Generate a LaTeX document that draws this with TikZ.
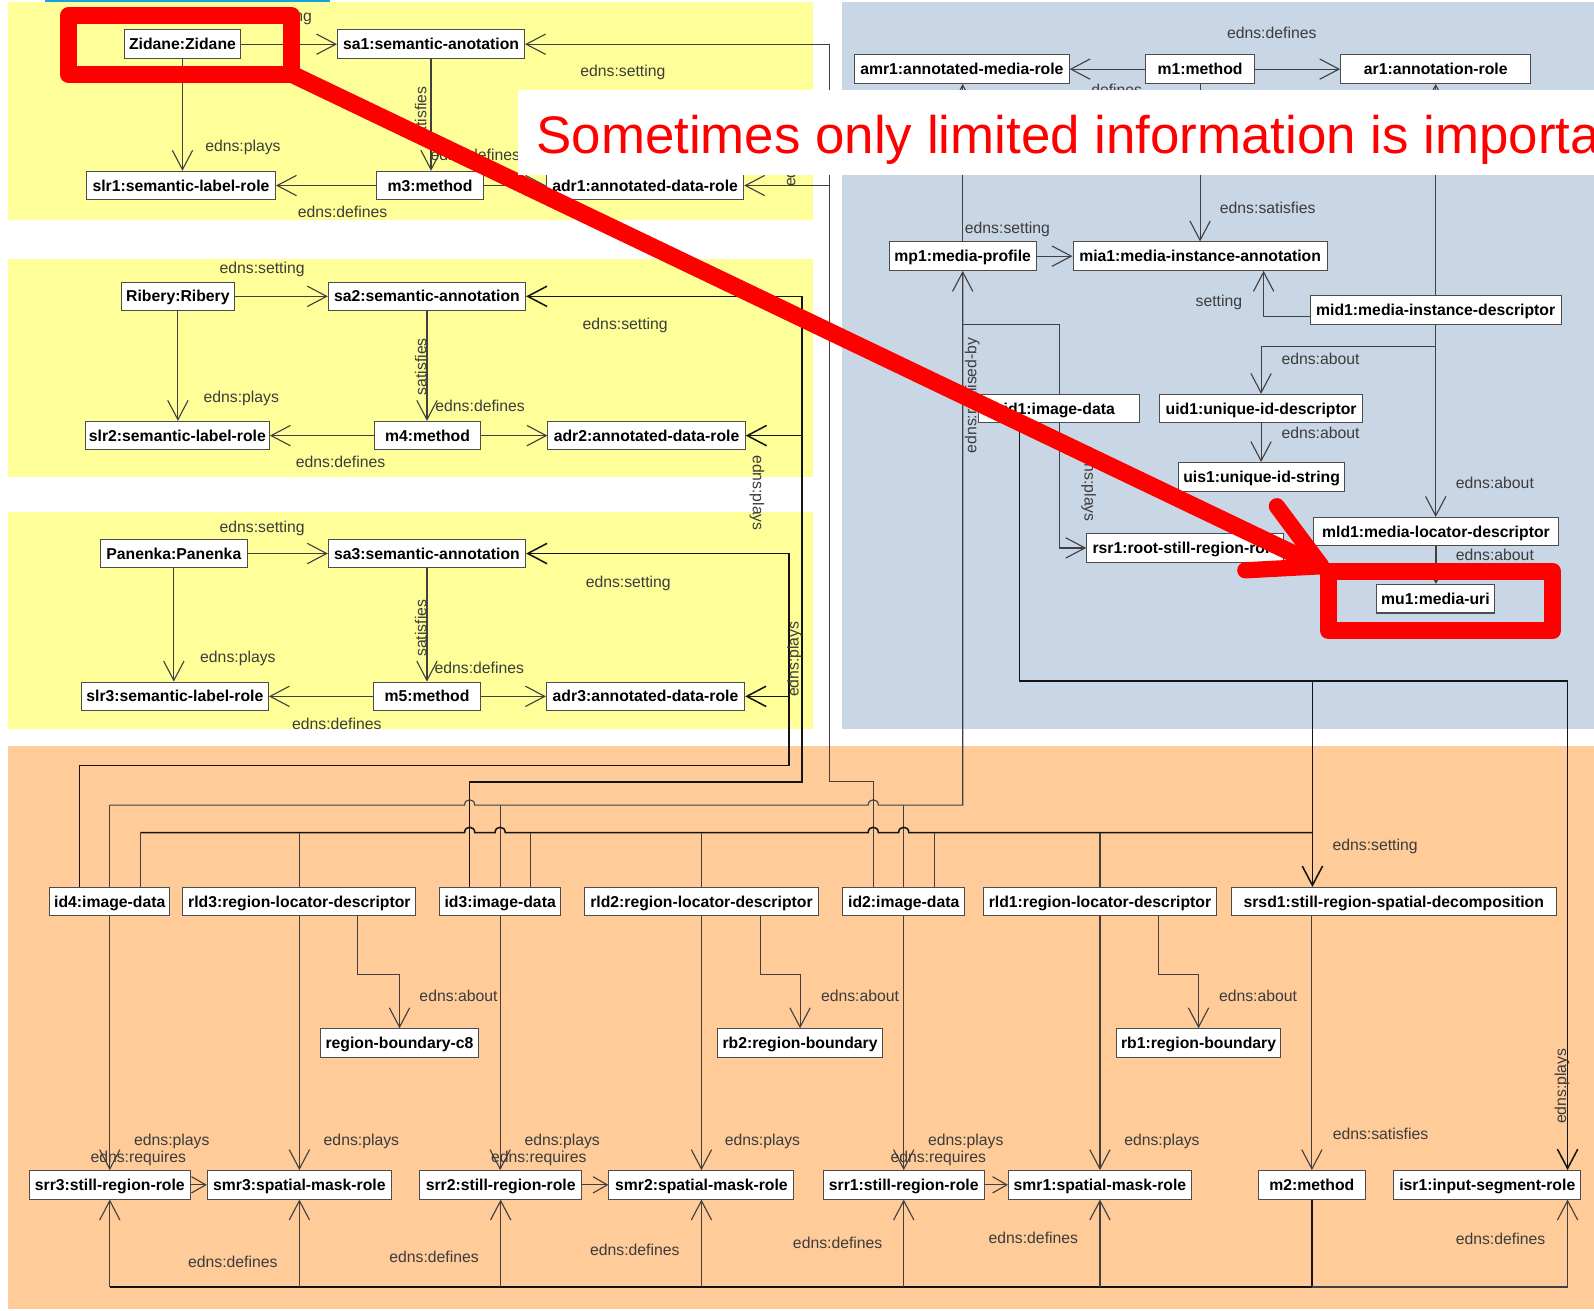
\documentclass[tikz,border=0pt]{standalone}
\usepackage{fontspec}
\setmainfont{Liberation Sans}
\usetikzlibrary{arrows.meta,calc}

\definecolor{paneyellow}{RGB}{255,255,153}
\definecolor{paneblue}{RGB}{201,214,230}
\definecolor{paneorange}{RGB}{254,203,153}
\definecolor{wiregray}{RGB}{64,64,64}
\definecolor{labelgray}{RGB}{60,60,60}
\definecolor{markred}{RGB}{255,0,0}
\definecolor{stripblue}{RGB}{20,165,225}

\begin{document}
\begin{tikzpicture}[x=1pt,y=-1pt,
  box/.style={draw=black!70, line width=1pt, fill=white,
    font=\fontsize{15.5}{18}\selectfont\bfseries,
    minimum height=28pt, inner sep=0pt, text height=11pt, text depth=0pt},
  lbl/.style={font=\fontsize{15.5}{18}\selectfont, text=labelgray,
    inner sep=0pt, text height=11pt, text depth=0pt},
  wire/.style={draw=wiregray, line width=1.1pt},
  heavy/.style={draw=black!92, line width=1.5pt},
  arr/.style={-{Straight Barb[length=19pt,width=20pt]}},
  sarr/.style={-{Straight Barb[length=14pt,width=16pt]}},
  hop/.style={insert path={-- ([xshift=-5pt]#1)
      .. controls ([xshift=-5pt,yshift=7pt]#1) and ([xshift=5pt,yshift=7pt]#1)
      .. ([xshift=5pt]#1)}},
  redmark/.style={draw=markred, line width=17pt}
]
\useasboundingbox (0,0) rectangle (1568,1289);

% ---------- panels ----------
\fill[white] (0,0) rectangle (1568,1289);
\fill[stripblue] (44,0) rectangle (325,1.8);
\fill[paneyellow] (8,2) rectangle (800,216);
\fill[paneyellow] (8,255) rectangle (800,469);
\fill[paneyellow] (8,504) rectangle (800,717);
\fill[paneblue] (828,2) rectangle (1568,717);
\fill[paneorange] (7.5,734) rectangle (1568,1287.5);

% ---------- semantic annotation groups ----------
\node[box,minimum width=115pt] (zid) at (179.5,43.5) {Zidane:Zidane};
\node[box,minimum width=184pt] (sa1) at (424,43.5) {sa1:semantic-anotation};
\node[box,minimum width=186pt] (slr1) at (178,182.5) {slr1:semantic-label-role};
\node[box,minimum width=106pt] (m3) at (423,182.5) {m3:method};
\node[box,minimum width=194pt] (adr1) at (634.6,182.5) {adr1:annotated-data-role};

\node[box,minimum width=111pt] (rib) at (175,291.5) {Ribery:Ribery};
\node[box,minimum width=194pt] (sa2) at (420,291.5) {sa2:semantic-annotation};
\node[box,minimum width=181pt] (slr2) at (174.5,428.5) {slr2:semantic-label-role};
\node[box,minimum width=105pt] (m4) at (420.5,428.5) {m4:method};
\node[box,minimum width=194pt] (adr2) at (636,428.5) {adr2:annotated-data-role};

\node[box,minimum width=144pt] (pan) at (171,544.5) {Panenka:Panenka};
\node[box,minimum width=194pt] (sa3) at (420,544.5) {sa3:semantic-annotation};
\node[box,minimum width=184pt] (slr3) at (172,685) {slr3:semantic-label-role};
\node[box,minimum width=106pt] (m5) at (420,685) {m5:method};
\node[box,minimum width=195pt] (adr3) at (635,685) {adr3:annotated-data-role};

% ---------- media instance group ----------
\node[box,minimum width=211pt] (amr1) at (946.2,68) {amr1:annotated-media-role};
\node[box,minimum width=107pt] (m1) at (1180.5,68) {m1:method};
\node[box,minimum width=187pt] (ar1) at (1412.3,68) {ar1:annotation-role};
\node[box,minimum width=145pt] (mp1) at (947,252) {mp1:media-profile};
\node[box,minimum width=250pt] (mia1) at (1180.5,252) {mia1:media-instance-annotation};
\node[box,minimum width=247pt] (mid1) at (1412.3,305) {mid1:media-instance-descriptor};
\node[box,minimum width=158pt] (id1) at (1042,402) {id1:image-data};
\node[box,minimum width=199pt] (uid1) at (1240.5,402) {uid1:unique-id-descriptor};
\node[box,minimum width=164pt] (uis1) at (1241,469) {uis1:unique-id-string};
\node[box,minimum width=241pt] (mld1) at (1412.5,523) {mld1:media-locator-descriptor};
\node[box,minimum width=194pt] (rsr1) at (1166,539) {rsr1:root-still-region-role};
\node[box,minimum width=116pt] (mu1) at (1412,589) {mu1:media-uri};

% ---------- region decomposition group ----------
\node[box,minimum width=118pt] (id4) at (108,887) {id4:image-data};
\node[box,minimum width=229pt] (rld3) at (294.5,887) {rld3:region-locator-descriptor};
\node[box,minimum width=119pt] (id3) at (492,887) {id3:image-data};
\node[box,minimum width=230pt] (rld2) at (690,887) {rld2:region-locator-descriptor};
\node[box,minimum width=120pt] (id2) at (889,887) {id2:image-data};
\node[box,minimum width=230pt] (rld1) at (1082,887) {rld1:region-locator-descriptor};
\node[box,minimum width=320pt] (srsd1) at (1371,887) {srsd1:still-region-spatial-decomposition};
\node[box,minimum width=156pt] (rbc) at (393,1026) {region-boundary-c8};
\node[box,minimum width=162pt] (rb2) at (787,1026) {rb2:region-boundary};
\node[box,minimum width=162pt] (rb1) at (1179,1026) {rb1:region-boundary};
\node[box,minimum width=158pt] (srr3) at (108,1165.5) {srr3:still-region-role};
\node[box,minimum width=181pt] (smr3) at (294.5,1165.5) {smr3:spatial-mask-role};
\node[box,minimum width=159pt] (srr2) at (492.5,1165.5) {srr2:still-region-role};
\node[box,minimum width=182pt] (smr2) at (690,1165.5) {smr2:spatial-mask-role};
\node[box,minimum width=158pt] (srr1) at (889,1165.5) {srr1:still-region-role};
\node[box,minimum width=180pt] (smr1) at (1082,1165.5) {smr1:spatial-mask-role};
\node[box,minimum width=105pt] (m2) at (1290.5,1165.5) {m2:method};
\node[box,minimum width=184pt] (isr1) at (1463,1165.5) {isr1:input-segment-role};

% ---------- routing helpers ----------
\coordinate (v4a) at ([xshift=-30pt]id4.north);
\coordinate (v4c) at ([xshift=30pt]id4.north);
\coordinate (v3a) at ([xshift=-30pt]id3.north);
\coordinate (v3c) at ([xshift=30pt]id3.north);
\coordinate (v2a) at ([xshift=-30pt]id2.north);
\coordinate (v2c) at ([xshift=30pt]id2.north);
\coordinate (aTurn) at (776,753);
\coordinate (dTurn) at (789,769);
\coordinate (eTurn) at (816,769);
\coordinate (yB) at (0,792);
\coordinate (yC) at (0,819);
\coordinate (yR) at (0,670);
\coordinate (yR1) at (0,319);
\coordinate (yAb) at (0,959);
\coordinate (yBot) at (0,1266);
\coordinate (sIn) at ([xshift=-80pt]srsd1.north);
\coordinate (v1a) at ([xshift=-39pt]id1.south);
\coordinate (isrIn) at ([xshift=79pt]isr1.north);
\coordinate (isrOut) at ([xshift=79pt]isr1.south);
\coordinate (hB1) at (v3a |- yB);
\coordinate (hB2) at (v2a |- yB);
\coordinate (hC1) at (v3a |- yC);
\coordinate (hC2) at (id3.north |- yC);
\coordinate (hC3) at (v2a |- yC);
\coordinate (hC4) at (id2.north |- yC);

% ---------- connectors: annotation groups ----------
\draw[wire,arr] (zid) -- (sa1);
\draw[wire,arr] (zid) -- (zid |- slr1.north);
\draw[wire,arr] (sa1) -- (sa1 |- m3.north);
\draw[wire,arr] (m3) -- (slr1);
\draw[wire,arr] (m3) -- (adr1);
\draw[wire,arr] (v2a) |- (eTurn) |- (sa1.east);
\draw[wire,arr] (eTurn |- adr1.east) -- (adr1.east);

\draw[wire,arr] (rib) -- (sa2);
\draw[wire,arr] (rib) -- (rib |- slr2.north);
\draw[wire,arr] (sa2) -- (sa2 |- m4.north);
\draw[wire,arr] (m4) -- (slr2);
\draw[wire,arr] (m4) -- (adr2);
\draw[heavy,arr] (v3a) |- (dTurn) |- (sa2.east);
\draw[heavy,arr] (dTurn |- adr2.east) -- (adr2.east);

\draw[wire,arr] (pan) -- (sa3);
\draw[wire,arr] (pan) -- (pan |- slr3.north);
\draw[wire,arr] (sa3) -- (sa3 |- m5.north);
\draw[wire,arr] (m5) -- (slr3);
\draw[wire,arr] (m5) -- (adr3);
\draw[heavy,arr] (v4a) |- (aTurn) |- (sa3.east);
\draw[heavy,arr] (aTurn |- adr3.east) -- (adr3.east);

% ---------- connectors: media instance group ----------
\draw[wire,arr] (m1) -- (amr1);
\draw[wire,arr] (m1) -- (ar1);
\draw[wire,arr] (m1) -- (m1 |- mia1.north);
\draw[wire,arr] (mp1) -- (mp1 |- amr1.south);
\draw[wire,arr] (mp1) -- (mia1);
\draw[wire,arr] (mid1) -- (mid1 |- ar1.south);
\draw[wire,arr] ([yshift=-6pt]mid1.west) -| ([xshift=62.5pt]mia1.south);
\draw[wire,arr] (mid1.south) -- ++(0,21) -| (uid1.north);
\draw[wire,arr] (mid1) -- (mid1 |- mld1.north);
\draw[wire,arr] (uid1) -- (uid1 |- uis1.north);
\draw[wire,arr] (mld1) -- (mld1 |- mu1.north);
\draw[wire,arr] (id1.south) |- (rsr1.west);

% realised-by bus
\draw[wire,arr] (id4.north |- yB) [hop=hB1] [hop=hB2] -- (mp1.south |- yB) -- (mp1.south);
\draw[wire] (id4.north |- yB) -- (id4.north);
\draw[wire] (id3.north |- yB) -- (id3.north);
\draw[wire] (id2.north |- yB) -- (id2.north);
\draw[wire] (mp1.south |- yR1) -| (id1.north);

% setting bus of the decomposition
\draw[heavy] (v4c |- yC) [hop=hC1] [hop=hC2] [hop=hC3] [hop=hC4] -- (sIn |- yC);
\draw[wire] (v4c |- yC) -- (v4c);
\draw[wire] (rld3.north |- yC) -- (rld3.north);
\draw[wire] (v3c |- yC) -- (v3c);
\draw[wire] (rld2.north |- yC) -- (rld2.north);
\draw[wire] (v2c |- yC) -- (v2c);
\draw[wire] (rld1.north |- yC) -- (rld1.north);
\draw[heavy,arr] (v1a) -- (v1a |- yR) -- (isrIn |- yR) -- (isrIn);
\draw[heavy,arr] (sIn |- yR) -- (sIn);

% ---------- connectors: region decomposition group ----------
\draw[wire,arr] (id4) -- (id4 |- srr3.north);
\draw[wire,arr] (rld3) -- (rld3 |- smr3.north);
\draw[wire,arr] (id3) -- (id3 |- srr2.north);
\draw[wire,arr] (rld2) -- (rld2 |- smr2.north);
\draw[wire,arr] (id2) -- (id2 |- srr1.north);
\draw[wire,arr] (rld1) -- (rld1 |- smr1.north);
\draw[wire,arr] (m2.north |- srsd1.south) -- (m2.north);
\draw[wire,arr] ([xshift=57.5pt]rld3.south) |- (yAb -| rbc.north) -- (rbc.north);
\draw[wire,arr] ([xshift=57.7pt]rld2.south) |- (yAb -| rb2.north) -- (rb2.north);
\draw[wire,arr] ([xshift=58pt]rld1.south) |- (yAb -| rb1.north) -- (rb1.north);
\draw[wire,sarr] (srr3) -- (smr3);
\draw[wire,sarr] (srr2) -- (smr2);
\draw[wire,sarr] (srr1) -- (smr1);
\draw[heavy] (m2.south) |- (srr3.south |- yBot);
\draw[wire,arr] (srr3.south |- yBot) -- (srr3.south);
\draw[wire,arr] (smr3.south |- yBot) -- (smr3.south);
\draw[wire,arr] (srr2.south |- yBot) -- (srr2.south);
\draw[wire,arr] (smr2.south |- yBot) -- (smr2.south);
\draw[wire,arr] (srr1.south |- yBot) -- (srr1.south);
\draw[wire,arr] (smr1.south |- yBot) -- (smr1.south);
\draw[wire,arr] (m2.south |- yBot) -| (isrOut);

% ---------- relation labels ----------
\node[lbl] (t1) at (265,16) {edns:setting};
\node[lbl] (t2) at (239,143.3) {edns:plays};
\node[lbl,rotate=90] (t3) at (414,113) {satisfies};
\node[lbl] (t4) at (467.5,152.5) {edns:defines};
\node[lbl] (t5) at (337,208) {edns:defines};
\node[lbl] (t6) at (612.7,69.8) {edns:setting};
\node[lbl,rotate=90,anchor=west] (t7) at (777,184) {edns:plays};

\node[lbl] (t8) at (257.8,264) {edns:setting};
\node[lbl] (t9) at (615,318.7) {edns:setting};
\node[lbl,rotate=90] (t10) at (414,360.6) {satisfies};
\node[lbl] (t11) at (237.4,390) {edns:plays};
\node[lbl] (t12) at (472.3,399.4) {edns:defines};
\node[lbl] (t13) at (335,454.5) {edns:defines};
\node[lbl,rotate=-90] (t14) at (746,485) {edns:plays};

\node[lbl] (t15) at (257.8,518) {edns:setting};
\node[lbl] (t16) at (618,572) {edns:setting};
\node[lbl,rotate=90] (t17) at (414,618) {satisfies};
\node[lbl] (t18) at (234,646) {edns:plays};
\node[lbl] (t19) at (471.5,656.8) {edns:defines};
\node[lbl] (t20) at (331.3,712) {edns:defines};
\node[lbl,rotate=90] (t21) at (780,648.5) {edns:plays};

\node[lbl] (t22) at (1251,32.8) {edns:defines};
\node[lbl] (t23) at (1098.5,88) {defines};
\node[lbl] (t24) at (991,224.6) {edns:setting};
\node[lbl] (t25) at (1247,205) {edns:satisfies};
\node[lbl] (t26) at (1199,296) {setting};
\node[lbl] (t27) at (1299,353) {edns:about};
\node[lbl] (t28) at (1299,426) {edns:about};
\node[lbl] (t29) at (1470.5,474.8) {edns:about};
\node[lbl] (t30) at (1470.5,546) {edns:about};
\node[lbl,rotate=-90] (t31) at (1072.5,476) {edns:plays};
\node[lbl,rotate=90] (t32) at (955,389) {edns:realised-by};

\node[lbl] (t33) at (1352.7,831) {edns:setting};
\node[lbl] (t34) at (451,980) {edns:about};
\node[lbl] (t35) at (846,980) {edns:about};
\node[lbl] (t36) at (1237.5,980) {edns:about};
\node[lbl] (t37) at (169,1121) {edns:plays};
\node[lbl] (t38) at (355.5,1121) {edns:plays};
\node[lbl] (t39) at (553,1121) {edns:plays};
\node[lbl] (t40) at (750,1121) {edns:plays};
\node[lbl] (t41) at (950,1121) {edns:plays};
\node[lbl] (t42) at (1143,1121) {edns:plays};
\node[lbl] (t43) at (136,1138) {edns:requires};
\node[lbl] (t44) at (530,1138) {edns:requires};
\node[lbl] (t45) at (923,1138) {edns:requires};
\node[lbl] (t46) at (1358,1115.5) {edns:satisfies};
\node[lbl,rotate=90] (t47) at (1535,1068.5) {edns:plays};
\node[lbl] (t48) at (229,1241) {edns:defines};
\node[lbl] (t49) at (427,1236) {edns:defines};
\node[lbl] (t50) at (624.5,1229.6) {edns:defines};
\node[lbl] (t51) at (824,1223) {edns:defines};
\node[lbl] (t52) at (1016.5,1218) {edns:defines};
\node[lbl] (t53) at (1476,1219) {edns:defines};

% ---------- highlight marks ----------
\draw[redmark, line cap=round] (285,72) -- (1296,556);

\fill[white] (510,89) rectangle (1568,172.5);
\begin{scope}
  \clip (510,89) rectangle (1568,172.5);
  \node[anchor=base west, inner sep=0pt, font=\fontsize{52}{60}\selectfont,
        text=markred] (msg) at (527.5,151) {Sometimes only limited information is important};
\end{scope}

\draw[redmark, line join=round] (67.5,15.6) rectangle (287,73.3);
\draw[redmark, line width=16.5pt, line join=round] (1306.5,561.8) rectangle (1527.5,620.3);
\draw[redmark, line width=16pt, line cap=round, line join=round]
  (1256,498) -- (1300,557) -- (1225,561);
\end{tikzpicture}
\end{document}
